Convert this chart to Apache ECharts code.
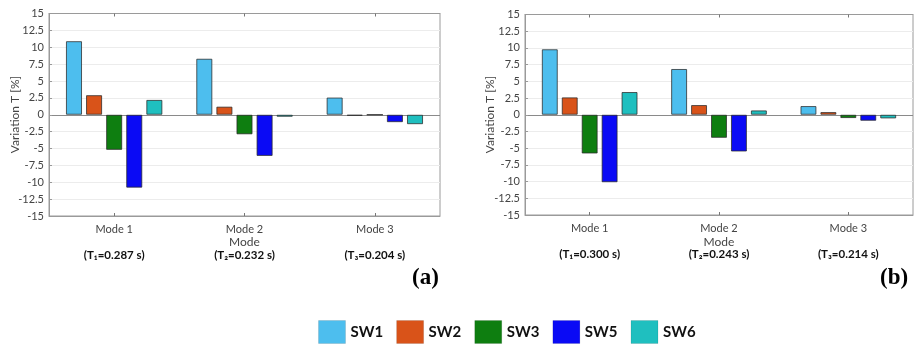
<!DOCTYPE html>
<html>
<head>
<meta charset="utf-8">
<script src="https://cdn.jsdelivr.net/npm/echarts@6/dist/echarts.min.js"></script>
<style>html,body{margin:0;padding:0;background:#fff}#c{width:916px;height:348px}</style>
</head>
<body>
<div id="c"></div>
<script>
var categories = ['Mode 1', 'Mode 2', 'Mode 3'];
var periodsA = ['(T\u2081=0.287 s)', '(T\u2082=0.232 s)', '(T\u2083=0.204 s)'];
var periodsB = ['(T\u2081=0.300 s)', '(T\u2082=0.243 s)', '(T\u2083=0.214 s)'];
var seriesNames = ['SW1', 'SW2', 'SW3', 'SW5', 'SW6'];
var xTitle = 'Mode';
var yTitle = 'Variation T [%]';
// panel (a)
var a_SW1 = [10.9, 8.3, 2.55];
var a_SW2 = [2.9, 1.2, -0.15];
var a_SW3 = [-5.2, -2.9, 0];
var a_SW5 = [-10.8, -6.1, -1.1];
var a_SW6 = [2.2, -0.3, -1.4];
// panel (b)
var b_SW1 = [9.8, 6.85, 1.3];
var b_SW2 = [2.6, 1.45, 0.4];
var b_SW3 = [-5.8, -3.45, -0.5];
var b_SW5 = [-10.1, -5.5, -0.9];
var b_SW6 = [3.4, 0.65, -0.55];
var yMin = -15, yMax = 15, yStep = 2.5;

var colors = ['#4DBEEE', '#D95319', '#0E7E10', '#0A0AF5', '#1FBFBF'];
var font = 'Lato, "Open Sans", sans-serif';
var gridColor = '#9a9a9a';

var chart = echarts.init(document.getElementById('c'));

function mkX(gi, periods) {
  return [{
    type: 'category', gridIndex: gi, data: categories, position: 'bottom',
    axisLine: {show: true, onZero: false, lineStyle: {color: gridColor}},
    axisTick: {show: true, inside: true, length: 3, alignWithLabel: true, lineStyle: {color: '#777'}},
    axisLabel: {
      margin: 6, color: '#444', fontFamily: font, fontSize: 11,
      formatter: function (v, i) { return '{a|' + v + '}\n{b|' + periods[i] + '}'; },
      rich: {
        a: {fontFamily: font, fontSize: 11, color: '#444', lineHeight: 14},
        b: {fontFamily: font, fontSize: 11.5, fontWeight: 'bold', color: '#111', lineHeight: 38}
      }
    }
  }, {
    type: 'category', gridIndex: gi, data: categories, position: 'top',
    axisLine: {show: true, onZero: false, lineStyle: {color: gridColor}},
    axisTick: {show: true, inside: true, length: 3, alignWithLabel: true, lineStyle: {color: '#777'}},
    axisLabel: {show: false}
  }];
}
function mkY(gi) {
  var splitColors = [];
  for (var v = yMin; v <= yMax + 1e-9; v += yStep) splitColors.push(Math.abs(v) < 1e-9 ? '#8a8a8a' : '#ececec');
  return {
    type: 'value', gridIndex: gi, min: yMin, max: yMax, interval: yStep,
    axisLine: {show: true, lineStyle: {color: gridColor}},
    axisTick: {show: true, inside: true, length: 3, lineStyle: {color: '#999'}},
    axisLabel: {color: '#444', fontFamily: font, fontSize: 11, margin: 5},
    splitLine: {show: true, lineStyle: {color: splitColors, width: 1}}
  };
}

var dataA = [a_SW1, a_SW2, a_SW3, a_SW5, a_SW6];
var dataB = [b_SW1, b_SW2, b_SW3, b_SW5, b_SW6];
var series = [];
[dataA, dataB].forEach(function (set, gi) {
  set.forEach(function (d, k) {
    series.push({
      type: 'bar', name: seriesNames[k], data: d,
      xAxisIndex: gi * 2, yAxisIndex: gi,
      barGap: '25%', barCategoryGap: '26%',
      itemStyle: {color: colors[k], borderColor: 'rgba(40,40,40,0.75)', borderWidth: 1},
      emphasis: {disabled: true}
    });
  });
});

var serif = '"Liberation Serif", "DejaVu Serif", serif';
function yName(x, y) {
  return {type: 'text', x: x, y: y, rotation: Math.PI / 2,
    style: {text: yTitle, align: 'center', verticalAlign: 'middle', fontFamily: font, fontSize: 12, fill: '#444'}};
}
chart.setOption({
  animation: false,
  color: colors,
  grid: [
    {left: 49, right: 476, top: 13.5, height: 202.5, show: true, borderColor: gridColor, borderWidth: 1},
    {left: 525, right: 3, top: 14.5, height: 200.5, show: true, borderColor: gridColor, borderWidth: 1}
  ],
  xAxis: mkX(0, periodsA).concat(mkX(1, periodsB)),
  yAxis: [mkY(0), mkY(1)],
  legend: {
    data: seriesNames, left: 313, top: 315, itemWidth: 27, itemHeight: 23, itemGap: 13,
    icon: 'rect',
    textStyle: {fontFamily: font, fontSize: 15, fontWeight: 'bold', color: '#111'},
    itemStyle: {borderColor: 'rgba(0,0,0,0.1)', borderWidth: 1}
  },
  graphic: [
    yName(15, 114.5),
    yName(490, 114.5),
    {type: 'text', x: 244.5, y: 242, style: {text: xTitle, align: 'center', verticalAlign: 'middle', fontFamily: font, fontSize: 12, fill: '#444'}},
    {type: 'text', x: 719, y: 242, style: {text: xTitle, align: 'center', verticalAlign: 'middle', fontFamily: font, fontSize: 12, fill: '#444'}},
    {type: 'text', left: 412, top: 267, style: {text: '(a)', fontFamily: serif, fontSize: 23, fontWeight: 'bold', fill: '#000'}},
    {type: 'text', left: 880, top: 267, style: {text: '(b)', fontFamily: serif, fontSize: 23, fontWeight: 'bold', fill: '#000'}}
  ],
  series: series
});
</script>
</body>
</html>
